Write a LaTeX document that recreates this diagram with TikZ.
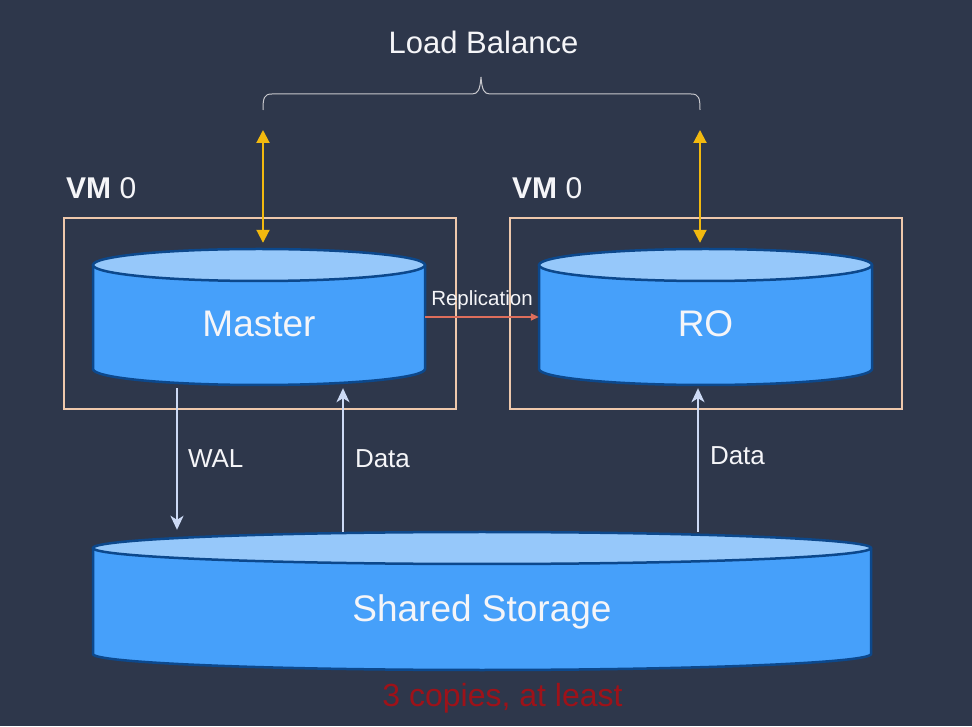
\documentclass[tikz,border=0pt]{standalone}
\usepackage{fontspec}
\setmainfont{Liberation Sans}
\usetikzlibrary{arrows.meta,positioning}

\definecolor{bgnavy}{RGB}{46,55,75}
\definecolor{drumblue}{RGB}{70,160,250}
\definecolor{drumlid}{RGB}{150,200,250}
\definecolor{drumedge}{RGB}{12,72,140}
\definecolor{vmpeach}{RGB}{238,200,172}
\definecolor{lbgold}{RGB}{242,185,15}
\definecolor{iolilac}{RGB}{205,218,245}
\definecolor{replred}{RGB}{222,110,92}
\definecolor{copyred}{RGB}{158,18,25}
\definecolor{bracegray}{RGB}{200,200,205}
\definecolor{textwhite}{RGB}{245,245,248}

\tikzset{
    drumbody/.style={fill=drumblue},
    drumline/.style={draw=drumedge,line width=2.5pt},
    drumtext/.style={text=textwhite,inner sep=0,font=\fontsize{37}{40}\selectfont},
    vmbox/.style={draw=vmpeach,line width=2pt,inner sep=0},
    vmlabel/.style={text=textwhite,inner sep=0,font=\fontsize{30}{34}\selectfont},
    lbarrow/.style={draw=lbgold,line width=2pt,{Triangle[length=13pt,width=13pt]}-{Triangle[length=13pt,width=13pt]}},
    ioarrow/.style={draw=iolilac,line width=2pt,-{Stealth[length=14pt,width=13pt,inset=4pt]}},
    iolabel/.style={text=textwhite,inner sep=0,font=\fontsize{26}{30}\selectfont},
    replarrow/.style={draw=replred,line width=1.5pt,-{Triangle[length=8pt,width=7pt]}},
}

% drum: name, centre x, top y, bottom y, x radius, label
\newcommand{\dbdrum}[6]{%
    \fill[drumbody] (#2-#5,#3) -- (#2-#5,#4) arc[start angle=180,end angle=360,x radius=#5,y radius=16] -- (#2+#5,#3) -- cycle;
    \draw[drumline] (#2-#5,#3) -- (#2-#5,#4) arc[start angle=180,end angle=360,x radius=#5,y radius=16] -- (#2+#5,#3);
    \draw[drumline,fill=drumlid] (#2,#3) ellipse[x radius=#5,y radius=16];
    \node[inner sep=0,minimum width={2*#5},minimum height={#3-#4+32}] (#1) at (#2,{(#3+#4)/2}) {};
    \node[drumtext,anchor=base] (#1text) at (#2,{(#3+#4)/2-20}) {#6};
}

\begin{document}
\begin{tikzpicture}[x=1pt,y=1pt]
    \useasboundingbox (0,0) rectangle (972,726);
    \fill[bgnavy] (0,0) rectangle (972,726);

    % load balance
    \node[text=textwhite,inner sep=0,anchor=base,font=\fontsize{31}{34}\selectfont] (lb) at (483.5,672) {Load Balance};
    \draw[bracegray,line width=1pt] (263,616) .. controls (263,628) and (264,632) .. (272,632) -- (472,632)
        .. controls (478,632) and (480,636) .. (481,649) .. controls (482,636) and (484,632) .. (490,632)
        -- (691,632) .. controls (699,632) and (700,628) .. (700,616);

    % vm boxes
    \node[vmbox,minimum width=392,minimum height=191] (vmA) at (260,412.5) {};
    \node[vmbox,minimum width=392,minimum height=191] (vmB) at (706,412.5) {};
    \node[vmlabel,anchor=base west] (vmAlbl) at ([xshift=3pt,yshift=18pt]vmA.north west) {\textbf{VM} 0};
    \node[vmlabel,anchor=base west] (vmBlbl) at ([xshift=3pt,yshift=18pt]vmB.north west) {\textbf{VM} 0};

    % databases
    \dbdrum{master}{259}{461}{357}{166}{Master}
    \dbdrum{ro}{705.5}{461}{357}{166.5}{RO}
    \dbdrum{store}{482}{178}{72}{389}{Shared Storage}

    \node[text=copyred,inner sep=0,anchor=base,font=\fontsize{32}{36}\selectfont] (copies) at (502.5,20) {3 copies, at least};

    % connectors
    \coordinate (lbL) at (263,596);
    \coordinate (lbR) at (700,596);
    \coordinate (walx) at (177,0);
    \coordinate (mdatax) at (343,0);
    \coordinate (rdatax) at (698,0);

    \draw[lbarrow,shorten >=6pt] (lbL) -- (lbL |- master.north);
    \draw[lbarrow,shorten >=6pt] (lbR) -- (lbR |- ro.north);

    \draw[ioarrow,shorten <=3pt,shorten >=2pt] (walx |- master.south) -- (walx |- store.north)
        node[iolabel,midway,right=10pt] (wal) {WAL};
    \draw[ioarrow,shorten >=3pt] (mdatax |- store.north) -- (mdatax |- master.south)
        node[iolabel,midway,right=11pt] (mdata) {Data};
    \draw[ioarrow,shorten >=3pt] (rdatax |- store.north) -- (rdatax |- ro.south)
        node[iolabel,midway,right=11pt,yshift=3pt] (rdata) {Data};

    \draw[replarrow] (master.east) -- (ro.west)
        node[midway,above=6pt,inner sep=0,text=textwhite,font=\fontsize{20.5}{23}\selectfont] (repl) {Replication};
\end{tikzpicture}
\end{document}
